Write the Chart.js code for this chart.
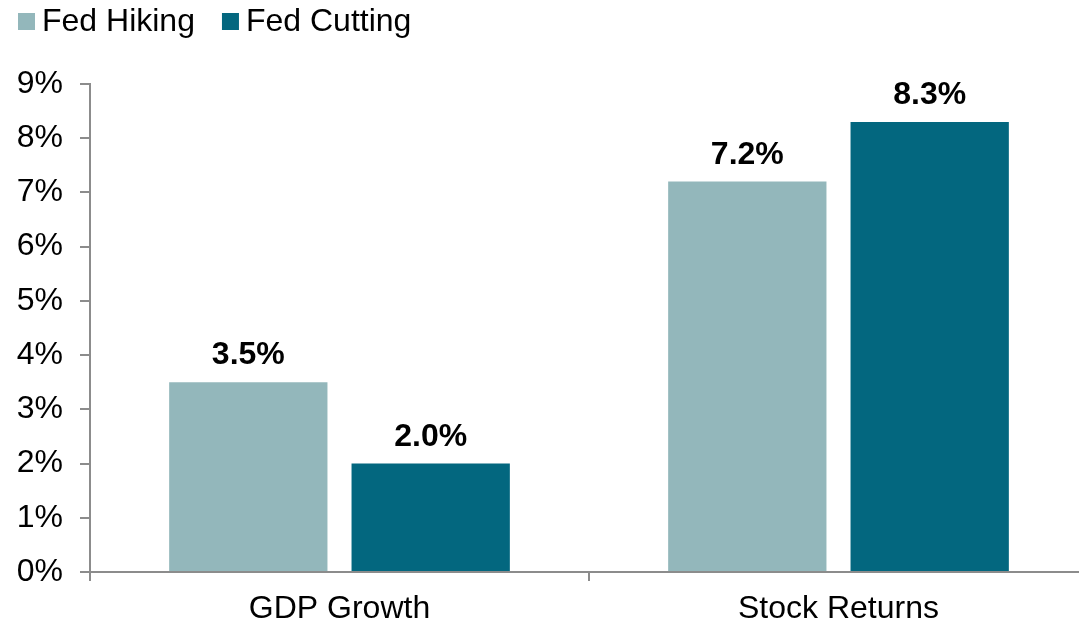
<!DOCTYPE html>
<html>
<head>
<meta charset="utf-8">
<script src="https://cdn.jsdelivr.net/npm/chart.js@4.4.1/dist/chart.umd.min.js"></script>
<style>
  html, body { margin: 0; padding: 0; background: #fff; overflow: hidden; }
  #wrap { position: relative; width: 1088px; height: 623px; }
</style>
</head>
<body>
<div id="wrap"><canvas id="chart"></canvas></div>
<script>
// Chart data
const categories = ['GDP Growth', 'Stock Returns'];
const seriesNames = ['Fed Hiking', 'Fed Cutting'];
const fedHiking = [3.5, 7.2];
const fedCutting = [2.0, 8.3];
const seriesColors = ['#93B7BB', '#03677F'];
const yTicks = [0, 1, 2, 3, 4, 5, 6, 7, 8, 9];

const FONT = '"Liberation Sans", Arial, sans-serif';
const AXIS = '#8c8c8c';
const SIZE = 32;

// Value labels above each bar, positioned from the bar elements themselves
const valueLabels = {
  id: 'valueLabels',
  afterDatasetsDraw(chart) {
    const ctx = chart.ctx;
    ctx.save();
    ctx.font = 'bold ' + SIZE + 'px ' + FONT;
    ctx.fillStyle = '#000';
    ctx.textAlign = 'center';
    ctx.textBaseline = 'alphabetic';
    chart.data.datasets.forEach((ds, i) => {
      chart.getDatasetMeta(i).data.forEach((bar, j) => {
        ctx.fillText(ds.data[j].toFixed(1) + '%', bar.x, bar.y - 18);
      });
    });
    ctx.restore();
  }
};

// Legend row in the top-left corner
const topLegend = {
  id: 'topLegend',
  afterDraw(chart) {
    const ctx = chart.ctx;
    ctx.save();
    ctx.font = SIZE + 'px ' + FONT;
    ctx.textBaseline = 'alphabetic';
    let x = 18;
    chart.data.datasets.forEach(ds => {
      ctx.fillStyle = ds.backgroundColor;
      ctx.fillRect(x, 13, 17, 17);
      ctx.fillStyle = '#000';
      ctx.fillText(ds.label, x + 24, 31);
      x += 24 + ctx.measureText(ds.label).width + 27;
    });
    ctx.restore();
  }
};

new Chart(document.getElementById('chart'), {
  type: 'bar',
  data: {
    labels: categories,
    datasets: [
      { label: seriesNames[0], data: fedHiking, backgroundColor: seriesColors[0] },
      { label: seriesNames[1], data: fedCutting, backgroundColor: seriesColors[1] }
    ]
  },
  options: {
    responsive: true,
    maintainAspectRatio: false,
    animation: false,
    events: [],
    layout: { padding: { top: 84, left: 0, right: 0, bottom: 0 } },
    datasets: { bar: { categoryPercentage: 0.731, barPercentage: 0.868 } },
    plugins: { legend: { display: false }, tooltip: { enabled: false } },
    scales: {
      x: {
        offset: true,
        grid: { offset: true, drawOnChartArea: false, tickLength: 9, color: AXIS, lineWidth: 2 },
        border: { display: true, color: AXIS, width: 2 },
        ticks: { color: '#000', font: { family: FONT, size: SIZE }, padding: 9 },
        afterFit(scale) { scale.height = 51; }
      },
      y: {
        min: yTicks[0],
        max: yTicks[yTicks.length - 1],
        afterBuildTicks(scale) { scale.ticks = yTicks.map(v => ({ value: v })); },
        grid: { drawOnChartArea: false, tickLength: 10, color: AXIS, lineWidth: 2 },
        border: { display: true, color: AXIS, width: 2 },
        ticks: {
          color: '#000',
          font: { family: FONT, size: SIZE },
          padding: 17,
          callback: v => v + '%'
        },
        afterFit(scale) { scale.width = 90; }
      }
    }
  },
  plugins: [valueLabels, topLegend]
});
</script>
</body>
</html>
